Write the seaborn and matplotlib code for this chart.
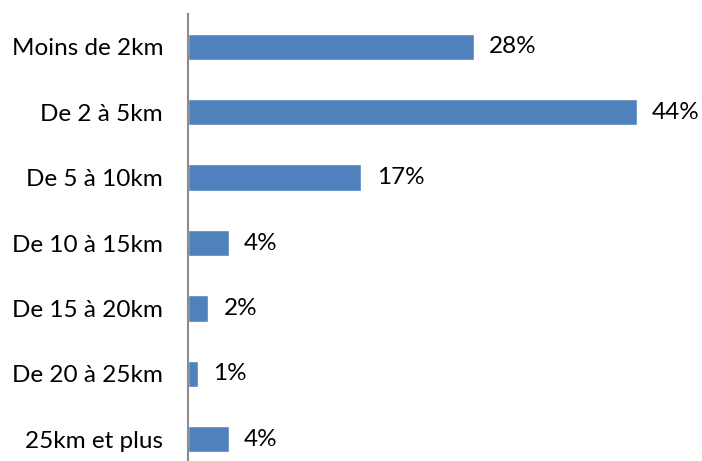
import matplotlib
matplotlib.use("Agg")
import matplotlib.pyplot as plt
import seaborn as sns
import pandas as pd

categories = ["Moins de 2km", "De 2 à 5km", "De 5 à 10km", "De 10 à 15km",
              "De 15 à 20km", "De 20 à 25km", "25km et plus"]
shares = [28, 44, 17, 4, 2, 1, 4]

df = pd.DataFrame({"distance": categories, "part": shares})

sns.set_theme(style="white")
plt.rcParams["font.family"] = ["Lato", "DejaVu Sans"]

W, H = 702, 461
fig = plt.figure(figsize=(W / 100, H / 100), dpi=100)
ax_left, ax_top, ax_bottom = 188, 14, 472
ax = fig.add_axes([ax_left / W, (H - ax_bottom) / H, 510 / W, (ax_bottom - ax_top) / H])

sns.barplot(data=df, y="distance", x="part", order=categories, color="#4F81BD",
            saturation=1, width=0.4, orient="h", ax=ax)

ax.set_xlim(0, 50)
ax.set_ylim(len(categories) - 0.5, -0.5)
ax.set_xlabel("")
ax.set_ylabel("")
ax.set_xticks([])
for side in ("top", "right", "bottom"):
    ax.spines[side].set_visible(False)
ax.spines["left"].set_color("#8C8C8C")
ax.spines["left"].set_linewidth(1.5)
ax.tick_params(axis="y", length=0, pad=18, labelsize=17.5, labelcolor="#000000")

for i, v in enumerate(shares):
    ax.text(v + 1.5, i, f"{v}%", va="center", ha="left", fontsize=17.5, color="#000000")

fig.savefig("out.png", dpi=100)
